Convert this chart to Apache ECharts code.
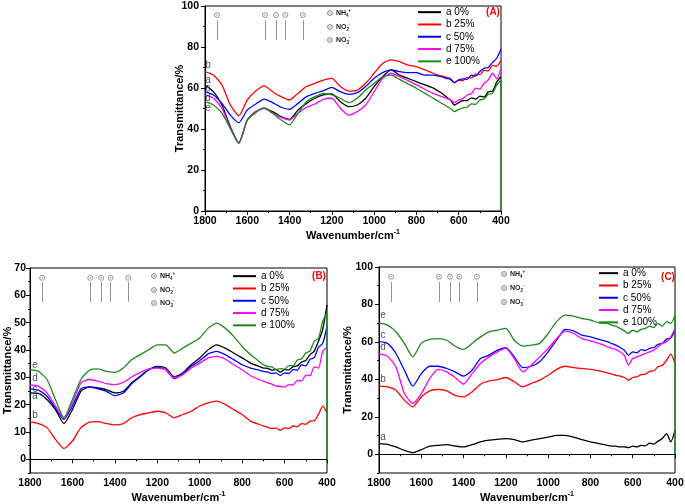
<!DOCTYPE html>
<html><head><meta charset="utf-8">
<script src="https://cdn.jsdelivr.net/npm/echarts@6/dist/echarts.min.js"></script>
<style>html,body{margin:0;padding:0;background:#fff}#c{width:685px;height:504px}</style>
</head><body><div id="c"></div>
<script>
// ---------- DATA ----------
const wavenumbers = [1800,1760,1720,1680,1640,1600,1560,1520,1480,1440,1400,1360,1320,1280,1240,1200,1160,1120,1080,1040,1000,960,920,880,840,800,760,720,
  700,680,660,640,620,600,580,560,540,520,500,480,460,440,420,400, 400];
const seriesNames = ['a 0%','b 25%','c 50%','d 75%','e 100%'];
const curveLetters = ['a','b','c','d','e'];

// Panel A
const A_a = [61.5,58.2,51.7,41.1,33.3,44.4,48.5,50.1,48.5,46.0,44.7,49.3,52.5,55.0,56.6,57.1,53.3,50.9,51.7,55.0,60.7,65.5,68.8,66.3,64.7,63.1,61.5,59.9,
  58.7,57.4,55.8,54.2,51.7,52.9,53.8,53.9,55.2,54.6,56.0,55.6,58.2,58.5,63.0,65.5];
const A_b = [68.0,66.3,61.5,51.7,46.5,54.2,58.5,61.0,58.2,55.8,54.2,57.4,60.7,62.3,63.9,64.7,60.7,58.5,59.0,62.3,67.2,72.0,73.7,72.9,71.2,70.4,68.8,67.2,
  66.3,65.9,65.2,64.7,62.6,63.9,63.6,65.2,64.9,66.8,66.5,68.6,68.4,71.0,70.6,73.7];
const A_c = [58.2,56.6,52.5,46.8,43.1,49.3,52.2,54.6,52.9,50.6,49.6,52.5,55.8,57.4,58.7,60.3,58.2,56.9,57.7,60.7,64.7,67.5,68.8,68.0,67.5,67.5,66.3,66.3,
  65.9,65.5,64.7,64.2,62.6,63.9,64.5,64.2,66.3,65.8,68.0,69.6,70.0,72.5,74.5,79.0];
const A_d = [56.6,55.0,50.1,40.3,33.0,44.4,48.5,50.1,47.7,45.7,44.4,47.7,50.6,52.2,54.5,55.0,50.1,46.8,48.5,51.7,58.2,64.7,67.2,65.5,63.6,61.5,59.4,57.4,
  56.6,55.8,55.0,54.2,52.9,54.2,54.8,56.6,57.2,59.9,59.5,62.3,64.0,67.2,64.5,69.6];
const A_e = [53.3,51.7,47.7,40.3,33.0,44.4,48.0,50.4,47.7,44.4,42.0,47.7,53.3,55.8,57.4,56.6,55.0,52.9,55.0,59.0,62.3,65.5,66.3,64.2,62.0,59.9,57.4,55.0,
  53.8,52.5,51.2,50.1,48.5,49.6,50.3,50.6,52.3,52.0,54.2,54.6,57.0,57.4,61.5,63.9, 0];
const A_letterY = [63.9,71.2,60.0,55.1,50.2];

// Panel B
const B_a = [24.3,24.1,21.9,18.2,13.1,18.2,24.9,26.5,26.1,25.5,24.3,24.9,28.0,30.4,32.8,34.0,33.4,30.2,31.6,34.6,37.1,40.1,41.9,40.7,38.9,37.1,35.2,34.0,
  33.4,33.3,32.6,32.8,31.9,32.8,32.7,33.9,34.2,35.6,36.2,38.3,39.6,43.2,47.5,56.5];
const B_b = [13.7,13.1,11.6,7.3,4.0,6.7,11.6,13.6,13.8,13.1,12.6,13.1,15.2,16.4,17.0,17.6,17.0,15.2,16.4,17.6,19.5,20.7,21.3,20.1,18.2,16.4,14.0,12.8,
  12.2,11.8,11.3,11.4,10.6,11.5,11.3,12.2,11.9,13.1,12.8,14.0,14.1,16.5,19.5,17.0];
const B_c = [25.8,25.3,23.1,18.8,14.6,19.5,25.8,26.5,25.8,24.9,23.3,24.3,27.7,30.2,32.8,33.7,32.8,29.5,31.4,34.0,36.1,38.6,39.5,38.3,36.5,34.6,33.4,32.6,
  32.2,32.0,31.4,31.6,30.6,31.6,31.4,32.8,32.6,34.6,34.2,36.6,37.2,41.0,42.5,48.6];
const B_d = [27.3,26.7,24.3,19.5,15.0,20.7,28.0,29.2,28.6,27.7,27.3,28.2,30.2,31.8,33.1,33.4,32.8,29.8,31.0,33.4,35.2,37.1,37.7,36.7,34.6,32.8,30.6,29.2,
  28.6,28.0,27.5,26.8,26.7,26.4,27.3,27.2,28.9,28.7,30.8,30.6,33.8,33.4,39.5,41.0];
const B_e = [32.8,32.2,29.2,21.9,15.2,21.9,29.2,32.6,33.1,32.2,31.8,33.4,36.5,38.3,40.1,41.9,41.9,38.9,40.7,42.5,44.4,48.0,49.8,48.0,45.0,41.3,38.3,35.9,
  34.6,34.0,33.8,32.9,33.2,33.0,34.3,34.2,36.3,36.8,38.9,39.6,43.2,44.2,50.5,53.5, 0];
const B_letterY = [23.1,16.0,25.8,29.5,34.6];

// Panel C
const C_a = [5.7,5.3,3.9,2.1,0.9,2.5,4.3,4.8,5.1,4.4,3.9,5.1,6.6,7.5,8.0,8.4,7.8,6.6,7.5,8.4,9.2,10.1,10.1,9.2,7.8,6.6,5.7,4.8,
  4.4,4.3,3.9,3.9,3.6,4.3,3.9,4.8,4.5,5.9,5.4,7.0,8.4,11.0,6.6,12.8];
const C_b = [36.4,36.0,34.2,28.9,25.3,30.6,33.9,34.6,33.9,31.5,30.6,33.3,37.4,39.2,39.9,41.0,38.7,36.0,37.8,39.6,42.2,45.3,47.0,46.3,45.8,45.3,44.5,43.5,
  42.8,42.2,41.7,41.0,39.6,41.0,41.4,42.5,42.8,44.3,44.6,46.8,47.5,50.2,53.5,48.5];
const C_c = [60.1,59.2,53.8,44.9,36.4,43.1,47.0,47.0,45.8,44.0,41.7,44.9,51.1,52.9,55.6,57.0,52.0,46.3,47.0,49.4,54.7,60.9,66.7,65.9,63.6,62.7,61.3,60.1,
  59.2,58.3,57.0,55.6,52.9,54.7,54.2,55.9,55.4,56.6,57.0,58.7,59.2,61.5,62.0,66.3];
const C_d = [53.8,52.4,46.7,32.4,27.1,32.4,40.5,45.3,44.0,41.0,37.4,43.1,48.5,52.0,54.7,56.5,51.1,44.0,47.6,52.0,56.5,61.8,65.9,64.5,61.8,60.6,59.2,57.4,
  56.5,56.0,54.7,52.9,47.6,51.1,52.0,52.9,53.8,54.7,55.6,57.4,59.2,60.1,62.7,67.2];
const C_e = [70.2,69.0,65.4,59.2,52.0,59.2,61.3,61.8,60.9,57.7,56.0,59.2,62.7,65.4,66.3,67.2,60.9,57.7,58.3,59.2,64.5,70.8,74.3,73.8,72.5,71.7,70.2,69.9,
  69.0,68.4,67.2,65.9,64.5,66.3,65.4,66.7,67.2,68.4,67.7,69.9,68.4,70.8,69.9,74.3, 0];
const C_letterY = [9.1,40.1,63.6,57.2,74.3];

// band-assignment markers (wavenumber) and their heights per panel [circle, lineTop, lineBottom]
const markerWavenumbers = [1743,1516,1464,1420,1337];
const A_markerLevels = [95.6,93.0,83.4];
const B_markerLevels = [66.4,64.9,57.6];
const C_markerLevels = [94.8,92.0,81.3];

// y ticks
const A_yTicks = [0,20,40,60,80,100];
const B_yTicks = [0,10,20,30,40,50,60,70];
const C_yTicks = [0,20,40,60,80,100];

// ---------- CHART ----------
const FONT = 'Arial, "Liberation Sans", sans-serif';
const colors = ['#000000','#ff0000','#0000ff','#ff00ff','#1a8c1a'];
const chart = echarts.init(document.getElementById('c'), null, {renderer:'canvas'});

const panels = [
  {grid:{left:205, top:6, width:296, height:205}, ymin:0, ymax:100, yTicks:A_yTicks, minorStep:10, yLabelMargin:6, yNameGap:20,
   data:[A_a,A_b,A_c,A_d,A_e], letterY:A_letterY, letterX:1786, markers:A_markerLevels,
   legend:{left:418, top:6, itemWidth:23}, tag:{text:'(A)', x:493, y:12},
   key:{cx:330, ys:[13,27,40], tx:336}},
  {grid:{left:30, top:268, width:297, height:205}, ymin:-5, ymax:70, yTicks:B_yTicks, minorStep:5, yLabelMargin:4, yNameGap:16.5,
   data:[B_a,B_b,B_c,B_d,B_e], letterY:B_letterY, letterX:1776, markers:B_markerLevels,
   legend:{left:233, top:270, itemWidth:23}, tag:{text:'(B)', x:319, y:276},
   key:{cx:154, ys:[276,290,303], tx:160}},
  {grid:{left:379, top:267, width:296, height:206}, ymin:-10, ymax:100, yTicks:C_yTicks, minorStep:10, yLabelMargin:6, yNameGap:25.5,
   data:[C_a,C_b,C_c,C_d,C_e], letterY:C_letterY, letterX:1781, markers:C_markerLevels,
   legend:{left:599, top:267, itemWidth:19}, tag:{text:'(C)', x:668, y:277},
   key:{cx:504, ys:[274,288,302], tx:510}}
];

const grid=[], xAxis=[], yAxis=[], series=[], legend=[], graphic=[];
const keyTexts = ['{m|NH}{sb|4}{sp|+}','{m|NO}{sb|2}{sp|-}','{m|NO}{sb|3}{sp|-}'];
const keyRich = {
  m:{fontSize:7, fontWeight:'bold', fontFamily:FONT, fill:'#222', lineHeight:10},
  sb:{fontSize:4.5, fontWeight:'bold', fontFamily:FONT, verticalAlign:'bottom', fill:'#222', lineHeight:5},
  sp:{fontSize:4.5, fontWeight:'bold', fontFamily:FONT, verticalAlign:'top', fill:'#222', lineHeight:5}
};

panels.forEach((p, gi) => {
  grid.push(Object.assign({show:true, borderColor:'#000', borderWidth:1, backgroundColor:'transparent', outerBoundsMode:'none', containLabel:false}, p.grid));
  xAxis.push({
    type:'value', gridIndex:gi, min:400, max:1800, interval:200, inverse:true,
    name:'{t|Wavenumber/cm}{s|-1}', nameLocation:'middle', nameGap:18, nameMoveOverlap:false,
    nameTextStyle:{rich:{t:{fontSize:11, fontWeight:'bold', fontFamily:FONT, color:'#000', lineHeight:13},
                         s:{fontSize:7, fontWeight:'bold', fontFamily:FONT, color:'#000', verticalAlign:'top', lineHeight:8}}},
    axisLine:{show:true, lineStyle:{color:'#000', width:1}},
    axisTick:{show:true, inside:false, length:4, lineStyle:{color:'#000'}},
    minorTick:{show:true, splitNumber:2, length:2, lineStyle:{color:'#000'}},
    axisLabel:{fontSize:10.5, fontWeight:'bold', fontFamily:FONT, color:'#000', margin:5, hideOverlap:false,
               showMinLabel:true, showMaxLabel:true, formatter:(v)=>String(v)},
    splitLine:{show:false}, minorSplitLine:{show:false}
  });
  yAxis.push({
    type:'value', gridIndex:gi, min:p.ymin, max:p.ymax,
    name:'Transmittance/%', nameLocation:'middle', nameGap:p.yNameGap, nameMoveOverlap:false,
    nameTextStyle:{fontSize:11, fontWeight:'bold', fontFamily:FONT, color:'#000'},
    axisLine:{show:true, lineStyle:{color:'#000', width:1}},
    axisTick:{show:true, inside:false, length:4, customValues:p.yTicks, lineStyle:{color:'#000'}},
    axisLabel:{fontSize:10.5, fontWeight:'bold', fontFamily:FONT, color:'#000', margin:p.yLabelMargin, customValues:p.yTicks,
               hideOverlap:false, formatter:(v)=>String(v)},
    splitLine:{show:false}
  });
  // minor tick helper axis
  yAxis.push({
    type:'value', gridIndex:gi, min:p.ymin, max:p.ymax, interval:p.minorStep, position:'left',
    axisLine:{show:false}, axisLabel:{show:false}, splitLine:{show:false},
    axisTick:{show:true, inside:false, length:2, lineStyle:{color:'#000'}}
  });
  const yIdx = gi*2;
  p.data.forEach((vals, si) => {
    series.push({
      type:'line', name:seriesNames[si], xAxisIndex:gi, yAxisIndex:yIdx,
      data: vals.map((v,i)=>[wavenumbers[i], v]),
      showSymbol:false, symbol:'none', smooth:0.2,
      lineStyle:{color:colors[si], width:1.3}, itemStyle:{color:colors[si]},
      z:2+si, silent:true, animation:false
    });
  });
  // curve letters
  series.push({
    type:'scatter', name:'letters'+gi, xAxisIndex:gi, yAxisIndex:yIdx, symbolSize:0.1,
    data: p.letterY.map((v,i)=>({value:[p.letterX, v], label:{formatter:curveLetters[i]}})),
    label:{show:true, position:'inside', fontSize:10, fontFamily:FONT, color:'#222'},
    silent:true, z:10
  });
  // band markers
  const lv = p.markers;
  series.push({
    type:'scatter', name:'markers'+gi, xAxisIndex:gi, yAxisIndex:yIdx, symbol:'circle', symbolSize:5,
    data: markerWavenumbers.map(w=>[w, lv[0]]),
    itemStyle:{color:'#fff', borderColor:'#808080', borderWidth:1}, silent:true, z:10,
    markLine:{silent:true, symbol:['none','none'], label:{show:false},
      lineStyle:{color:'#909090', width:1, type:'solid'},
      data: markerWavenumbers.map(w=>[{coord:[w, lv[1]]},{coord:[w, lv[2]]}])}
  });
  series.push({
    type:'scatter', name:'markerdots'+gi, xAxisIndex:gi, yAxisIndex:yIdx, symbol:'circle', symbolSize:1.6,
    data: markerWavenumbers.map(w=>[w, lv[0]]), itemStyle:{color:'#808080'}, silent:true, z:11
  });
  legend.push({
    show:true, orient:'vertical', left:p.legend.left, top:p.legend.top, data:seriesNames,
    icon:'rect', itemWidth:p.legend.itemWidth, itemHeight:2, itemGap:0, padding:0, selectedMode:false,
    textStyle:{fontSize:10, fontFamily:FONT, color:'#000', lineHeight:12.3}
  });
  graphic.push({type:'text', x:p.tag.x, y:p.tag.y, style:{text:p.tag.text, fill:'#ff0000', font:'bold 10px '+FONT, align:'center', verticalAlign:'middle'}});
  p.key.ys.forEach((cy, k) => {
    graphic.push({type:'circle', shape:{cx:p.key.cx, cy:cy, r:2.4}, style:{fill:'#fff', stroke:'#808080', lineWidth:1}});
    graphic.push({type:'circle', shape:{cx:p.key.cx, cy:cy, r:0.8}, style:{fill:'#808080'}});
    graphic.push({type:'text', x:p.key.tx, y:cy, style:{text:keyTexts[k], rich:keyRich, verticalAlign:'middle', align:'left', fill:'#222'}});
  });
});

chart.setOption({
  animation:false, backgroundColor:'#fff',
  grid, xAxis, yAxis, series, legend, graphic,
  tooltip:{show:false}
});
</script></body></html>
